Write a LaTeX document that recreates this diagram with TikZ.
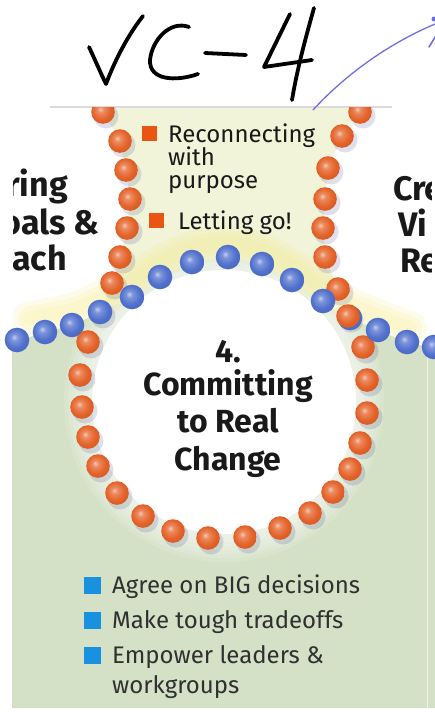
\documentclass[tikz,border=0pt]{standalone}
\usepackage{fontspec}
\setmainfont{Fira Sans}
\usetikzlibrary{arrows.meta}
\definecolor{panel}{RGB}{212,225,198}
\definecolor{neck}{RGB}{241,244,216}
\definecolor{glowy}{RGB}{246,236,150}
\definecolor{orb}{RGB}{228,98,40}
\definecolor{blb}{RGB}{80,112,205}
\definecolor{bsq}{RGB}{25,145,225}
\definecolor{osq}{RGB}{235,85,20}
\definecolor{pen}{RGB}{110,110,225}
\definecolor{ink}{RGB}{25,25,25}
\pgfdeclareradialshading{oball}{\pgfpoint{-6bp}{6bp}}{color(0bp)=(orb!35!white); color(7bp)=(orb!75!white); color(20bp)=(orb); color(36bp)=(orb!88!black); color(50bp)=(orb!70!black)}
\pgfdeclareradialshading{bball}{\pgfpoint{-6bp}{6bp}}{color(0bp)=(blb!35!white); color(7bp)=(blb!75!white); color(20bp)=(blb); color(36bp)=(blb!88!black); color(50bp)=(blb!70!black)}
\tikzset{
  obead/.style={shading=oball},
  bbead/.style={shading=bball},
  shad/.style={fill=black!60!blue, opacity=0.12},
  side/.style={font=\fontsize{34}{34}\selectfont\bfseries, text=ink, inner sep=0},
  title/.style={font=\fontsize{32}{32}\selectfont\bfseries, text=ink, inner sep=0, anchor=base},
  item/.style={font=\fontsize{24}{24}\selectfont, text=ink, inner sep=0, anchor=base west},
  litem/.style={font=\fontsize{24}{24}\selectfont, text=ink!90, inner sep=0, anchor=base west},
  bsquare/.style={fill=bsq, minimum size=17pt, inner sep=0},
  osquare/.style={fill=osq, minimum size=15pt, inner sep=0},
  hand/.style={draw=black, line width=3.8pt, line cap=round, line join=round},
}
\begin{document}
\begin{tikzpicture}[x=1pt,y=-1pt]
\useasboundingbox (0,0) rectangle (435,712);
\clip (0,0) rectangle (435,712);
% green panel
\fill[panel] (12,708) -- (12,343) -- plot[smooth] coordinates {(12,343) (45,332) (72,325) (100,312) (130,297) (157,278) (192,262) (228,257) (260,263) (292,280) (322,302) (350,318) (378,330) (407,342) (435,348)} -- (435,708) -- cycle;
\draw[white!60!panel, line width=1pt] (427,345) -- (427,708);
% ring glow
\foreach \r in {160,156,...,134} \fill[white, opacity=0.13] (224,402) circle[radius=\r pt];
\fill[white] (224,402) circle[radius=132pt];
% neck region
\fill[neck] (100,107) -- (120,141) -- (126,170) -- (130,199) -- (127,228) -- (120,257) -- (112,283) -- (100,312) -- (130,297) -- (157,278) -- (192,262) -- (228,257) -- (260,263) -- (292,280) -- (322,302) -- (338,289) -- (325,257) -- (323,228) -- (325,199) -- (328,168) -- (342,136) -- (362,107) -- cycle;
\foreach \w in {34,24,14}
  \draw[glowy, opacity=0.2, line width=\w pt, line cap=round] plot[smooth] coordinates {(30,318) (72,310) (100,298) (130,283) (157,264) (192,248) (228,243) (260,249) (292,266) (322,288) (350,304) (378,316) (410,328)};
% top grey line
\draw[gray!28, line width=1.2pt] (50,107) -- (392,107);
% beads
\begin{scope}
\clip (0,107) rectangle (435,712);
\foreach \p in {(103,112),(120,141),(126,170),(130,199),(127,228),(120,257),(112,283),(100,312),(88,342),(80,375),(82,407),(88,437),(98,466),(117,493),(143,516),(173,531),(208,538),(245,537),(280,528),(310,513),(333,492),(350,469),(360,443),(367,413),(367,380),(363,347),(348,316),(338,289),(325,257),(323,228),(325,199),(328,168),(342,136),(360,112)}
  \fill[shad] \p ++(3,4) circle[radius=12.5pt];
\foreach \p in {(103,112),(120,141),(126,170),(130,199),(127,228),(120,257),(112,283),(100,312),(80,375),(82,407),(88,437),(98,466),(117,493),(143,516),(173,531),(208,538),(245,537),(280,528),(310,513),(333,492),(350,469),(360,443),(367,413),(367,380),(363,347),(338,289),(325,257),(323,228),(325,199),(328,168),(342,136),(360,112)}
  \shade[obead] \p circle[radius=11.8pt];
\foreach \p in {(17,340),(45,332),(72,325),(100,312),(132,297),(160,277),(192,262),(228,257),(262,264),(292,280),(323,301),(350,318),(378,330),(407,342),(434,347)}
  \shade[bbead] \p circle[radius=12.3pt];
\shade[obead] (88,342) circle[radius=11.8pt];
\shade[obead] (348,316) circle[radius=11.8pt];
\end{scope}
% upper bullets
\node[osquare] (o1) at (149,133) {};
\node[osquare] (o2) at (156,220) {};
\node[item] (t1) at (168,142) {Reconnecting};
\node[item] (t2) at (168,165) {with};
\node[item] (t3) at (168,188) {purpose};
\node[item] (t4) at (178,229) {Letting go!};
% side texts
\begin{scope}
\clip (13,150) rectangle (431,290);
\node[side, anchor=base east] (l1) at (68,196) {ring};
\node[side, anchor=base east] (l2) at (100,234) {Goals \&};
\node[side, anchor=base east] (l3) at (67,270) {Approach};
\node[side, anchor=base west] (r1) at (393,200) {Cre};
\node[side, anchor=base west] (r2) at (398,236) {Vi};
\node[side, anchor=base west] (r3) at (400,272) {Res};
\end{scope}
% title
\node[title] (h0) at (228,362) {4.};
\node[title] (h1) at (228,395) {Committing};
\node[title] (h2) at (228,432) {to Real};
\node[title] (h3) at (228,470) {Change};
% lower list
\node[bsquare] (b1) at (92,585) {};
\node[bsquare] (b2) at (92,620) {};
\node[bsquare] (b3) at (92,655) {};
\node[litem] (s1) at (112,593) {Agree on BIG decisions};
\node[litem] (s2) at (112,628) {Make tough tradeoffs};
\node[litem] (s3) at (112,663) {Empower leaders \&};
\node[litem] (s4) at (112,693) {workgroups};
% handwriting
\draw[hand] (89,47) .. controls (96,62) and (102,76) .. (106,84) .. controls (115,60) and (128,35) .. (143,16);
\draw[hand] (189,27) .. controls (170,20) and (152,40) .. (150,60) .. controls (149,80) and (175,82) .. (198,74);
\draw[hand] (205,53) -- (246,55);
\draw[hand] (290,14) -- (264,67) -- (312,60);
\draw[hand] (314,8) .. controls (305,40) and (297,70) .. (292,100);
% blue pen arrow
\coordinate (a0) at (313,110);
\coordinate (a1) at (440,22);
\draw[pen, line width=1.3pt, line cap=round] (a0) .. controls (345,75) and (390,42) .. (a1);
\draw[pen, line width=1.6pt, line cap=round] (429,47) -- (437,34);
\fill[pen] (434,19) circle[radius=2.5pt];
\end{tikzpicture}
\end{document}
